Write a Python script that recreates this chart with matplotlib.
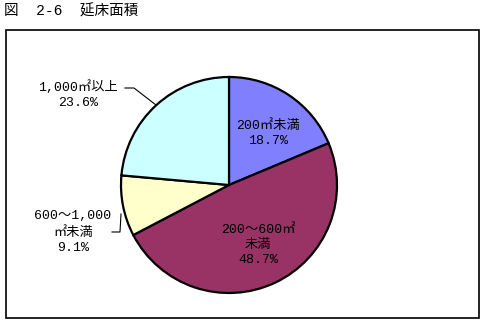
import matplotlib
matplotlib.use("Agg")
import matplotlib.pyplot as plt
from matplotlib.patches import Rectangle

plt.rcParams['font.family'] = ['Liberation Mono', 'Noto Sans CJK JP', 'DejaVu Sans']

# 延床面積の構成比
categories = ['200㎡未満', '200～600㎡未満', '600～1,000㎡未満', '1,000㎡以上']
shares = [18.7, 48.7, 9.1, 23.6]
colors = ['#8080FF', '#993366', '#FFFFCC', '#CCFFFF']
label_texts = ['200㎡未満\n18.7%', '200～600㎡\n未満\n48.7%',
               '600～1,000\n㎡未満\n9.1%', '1,000㎡以上\n23.6%']

fig = plt.figure(figsize=(4.85, 3.25), dpi=100)

# outer frame
fig.patches.append(Rectangle((6 / 485, 1 - 318 / 325), 473 / 485, 288 / 325,
                             transform=fig.transFigure, fill=False,
                             edgecolor='black', linewidth=1.2))
fig.text(4 / 485, 1 - 11 / 325, '図  2-6  延床面積', fontsize=10.5, va='center', ha='left')

# pie axes: 100 px per data unit, centre at (229, 185) px
ax = fig.add_axes([(229 - 110) / 485, (325 - 185 - 110) / 325, 220 / 485, 220 / 325])

ax.pie(shares, colors=colors, startangle=90, counterclock=False, radius=1.08,
       wedgeprops=dict(edgecolor='black', linewidth=1.6))
ax.set_xlim(-1.1, 1.1)
ax.set_ylim(-1.1, 1.1)
ax.axis('off')

def px(x, y):
    return ((x - 229) / 100, (185 - y) / 100)

label_pos = [(268, 133), (258, 245), (73, 232), (78, 95)]
for txt, (x, y) in zip(label_texts, label_pos):
    ax.text(*px(x, y), txt, ha='center', va='center', fontsize=9.5, linespacing=1.35)

# leader lines
p = [px(125, 88), px(134, 88), px(156, 105)]
ax.plot([q[0] for q in p], [q[1] for q in p], color='black', linewidth=0.8, clip_on=False)
p = [px(112, 232), px(120, 232), px(121, 214)]
ax.plot([q[0] for q in p], [q[1] for q in p], color='black', linewidth=0.8, clip_on=False)

fig.savefig('out.png', dpi=100)
